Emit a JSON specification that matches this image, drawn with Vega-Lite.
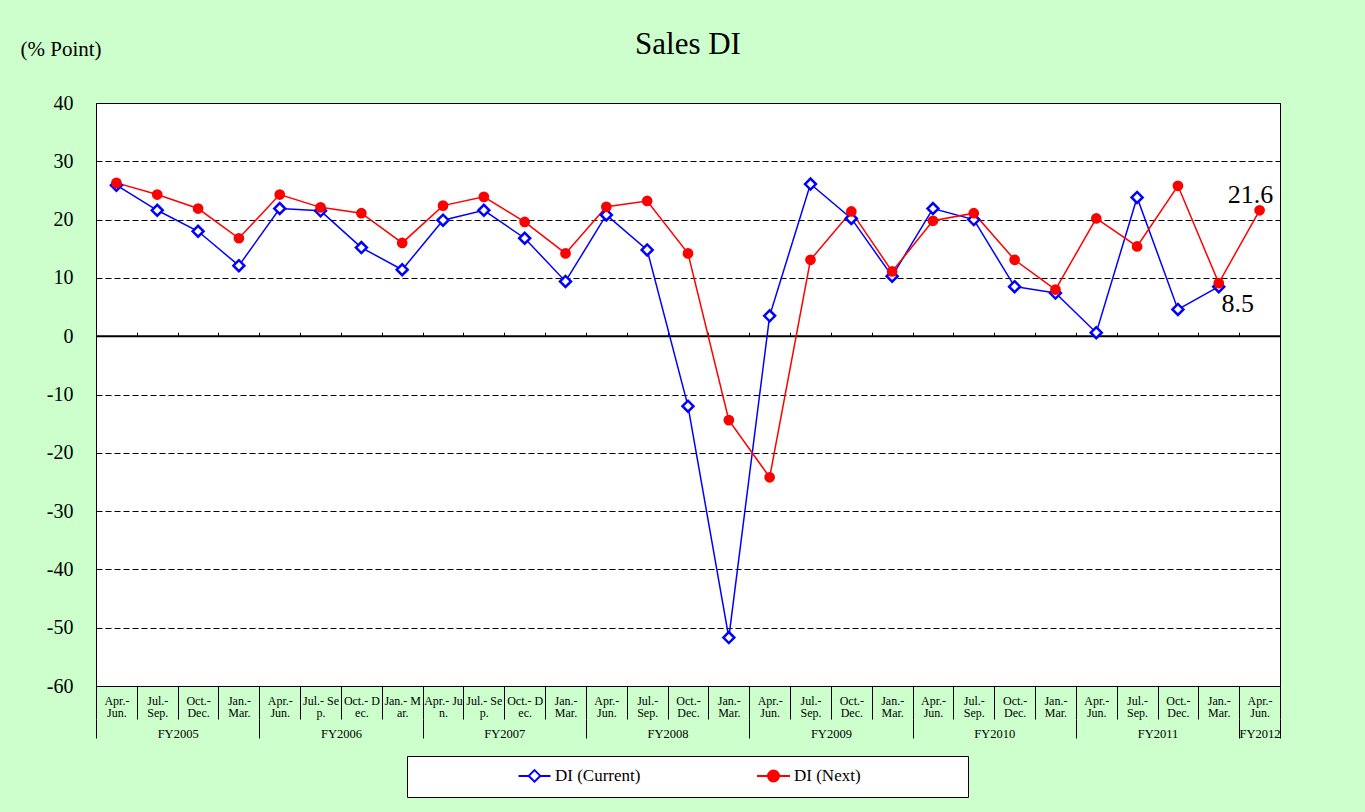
{
  "$schema": "https://vega.github.io/schema/vega-lite/v6.json",
  "width": 1184,
  "height": 583,
  "autosize": {"type": "none"},
  "padding": {"left": 96, "top": 103, "right": 85, "bottom": 126},
  "background": "#ccffcc",
  "title": {"text": "Sales DI", "font": "Liberation Serif", "fontSize": 31, "fontWeight": "normal", "color": "#000000", "anchor": "middle", "baseline": "alphabetic", "offset": 0, "dy": 47},
  "config": {
    "view": {"fill": "#ffffff", "stroke": "#000000", "strokeWidth": 1},
    "font": "Liberation Serif"
  },
  "data": {"values": [
    {"t": 0, "fy": "FY2005", "quarter": "Apr.-Jun.", "series": "DI (Current)", "di": 25.9},
    {"t": 1, "fy": "FY2005", "quarter": "Jul.-Sep.", "series": "DI (Current)", "di": 21.6},
    {"t": 2, "fy": "FY2005", "quarter": "Oct.-Dec.", "series": "DI (Current)", "di": 18.0},
    {"t": 3, "fy": "FY2005", "quarter": "Jan.-Mar.", "series": "DI (Current)", "di": 12.1},
    {"t": 4, "fy": "FY2006", "quarter": "Apr.-Jun.", "series": "DI (Current)", "di": 21.9},
    {"t": 5, "fy": "FY2006", "quarter": "Jul.-Sep.", "series": "DI (Current)", "di": 21.5},
    {"t": 6, "fy": "FY2006", "quarter": "Oct.-Dec.", "series": "DI (Current)", "di": 15.2},
    {"t": 7, "fy": "FY2006", "quarter": "Jan.-Mar.", "series": "DI (Current)", "di": 11.4},
    {"t": 8, "fy": "FY2007", "quarter": "Apr.-Jun.", "series": "DI (Current)", "di": 19.9},
    {"t": 9, "fy": "FY2007", "quarter": "Jul.-Sep.", "series": "DI (Current)", "di": 21.6},
    {"t": 10, "fy": "FY2007", "quarter": "Oct.-Dec.", "series": "DI (Current)", "di": 16.8},
    {"t": 11, "fy": "FY2007", "quarter": "Jan.-Mar.", "series": "DI (Current)", "di": 9.4},
    {"t": 12, "fy": "FY2008", "quarter": "Apr.-Jun.", "series": "DI (Current)", "di": 20.8},
    {"t": 13, "fy": "FY2008", "quarter": "Jul.-Sep.", "series": "DI (Current)", "di": 14.8},
    {"t": 14, "fy": "FY2008", "quarter": "Oct.-Dec.", "series": "DI (Current)", "di": -12.0},
    {"t": 15, "fy": "FY2008", "quarter": "Jan.-Mar.", "series": "DI (Current)", "di": -51.7},
    {"t": 16, "fy": "FY2009", "quarter": "Apr.-Jun.", "series": "DI (Current)", "di": 3.5},
    {"t": 17, "fy": "FY2009", "quarter": "Jul.-Sep.", "series": "DI (Current)", "di": 26.1},
    {"t": 18, "fy": "FY2009", "quarter": "Oct.-Dec.", "series": "DI (Current)", "di": 20.2},
    {"t": 19, "fy": "FY2009", "quarter": "Jan.-Mar.", "series": "DI (Current)", "di": 10.3},
    {"t": 20, "fy": "FY2010", "quarter": "Apr.-Jun.", "series": "DI (Current)", "di": 21.9},
    {"t": 21, "fy": "FY2010", "quarter": "Jul.-Sep.", "series": "DI (Current)", "di": 20.0},
    {"t": 22, "fy": "FY2010", "quarter": "Oct.-Dec.", "series": "DI (Current)", "di": 8.5},
    {"t": 23, "fy": "FY2010", "quarter": "Jan.-Mar.", "series": "DI (Current)", "di": 7.4},
    {"t": 24, "fy": "FY2011", "quarter": "Apr.-Jun.", "series": "DI (Current)", "di": 0.6},
    {"t": 25, "fy": "FY2011", "quarter": "Jul.-Sep.", "series": "DI (Current)", "di": 23.8},
    {"t": 26, "fy": "FY2011", "quarter": "Oct.-Dec.", "series": "DI (Current)", "di": 4.6},
    {"t": 27, "fy": "FY2011", "quarter": "Jan.-Mar.", "series": "DI (Current)", "di": 8.5},
    {"t": 0, "fy": "FY2005", "quarter": "Apr.-Jun.", "series": "DI (Next)", "di": 26.3},
    {"t": 1, "fy": "FY2005", "quarter": "Jul.-Sep.", "series": "DI (Next)", "di": 24.3},
    {"t": 2, "fy": "FY2005", "quarter": "Oct.-Dec.", "series": "DI (Next)", "di": 21.9},
    {"t": 3, "fy": "FY2005", "quarter": "Jan.-Mar.", "series": "DI (Next)", "di": 16.8},
    {"t": 4, "fy": "FY2006", "quarter": "Apr.-Jun.", "series": "DI (Next)", "di": 24.3},
    {"t": 5, "fy": "FY2006", "quarter": "Jul.-Sep.", "series": "DI (Next)", "di": 22.1},
    {"t": 6, "fy": "FY2006", "quarter": "Oct.-Dec.", "series": "DI (Next)", "di": 21.1},
    {"t": 7, "fy": "FY2006", "quarter": "Jan.-Mar.", "series": "DI (Next)", "di": 16.0},
    {"t": 8, "fy": "FY2007", "quarter": "Apr.-Jun.", "series": "DI (Next)", "di": 22.4},
    {"t": 9, "fy": "FY2007", "quarter": "Jul.-Sep.", "series": "DI (Next)", "di": 23.9},
    {"t": 10, "fy": "FY2007", "quarter": "Oct.-Dec.", "series": "DI (Next)", "di": 19.6},
    {"t": 11, "fy": "FY2007", "quarter": "Jan.-Mar.", "series": "DI (Next)", "di": 14.2},
    {"t": 12, "fy": "FY2008", "quarter": "Apr.-Jun.", "series": "DI (Next)", "di": 22.2},
    {"t": 13, "fy": "FY2008", "quarter": "Jul.-Sep.", "series": "DI (Next)", "di": 23.2},
    {"t": 14, "fy": "FY2008", "quarter": "Oct.-Dec.", "series": "DI (Next)", "di": 14.2},
    {"t": 15, "fy": "FY2008", "quarter": "Jan.-Mar.", "series": "DI (Next)", "di": -14.4},
    {"t": 16, "fy": "FY2009", "quarter": "Apr.-Jun.", "series": "DI (Next)", "di": -24.2},
    {"t": 17, "fy": "FY2009", "quarter": "Jul.-Sep.", "series": "DI (Next)", "di": 13.1},
    {"t": 18, "fy": "FY2009", "quarter": "Oct.-Dec.", "series": "DI (Next)", "di": 21.4},
    {"t": 19, "fy": "FY2009", "quarter": "Jan.-Mar.", "series": "DI (Next)", "di": 11.1},
    {"t": 20, "fy": "FY2010", "quarter": "Apr.-Jun.", "series": "DI (Next)", "di": 19.8},
    {"t": 21, "fy": "FY2010", "quarter": "Jul.-Sep.", "series": "DI (Next)", "di": 21.1},
    {"t": 22, "fy": "FY2010", "quarter": "Oct.-Dec.", "series": "DI (Next)", "di": 13.1},
    {"t": 23, "fy": "FY2010", "quarter": "Jan.-Mar.", "series": "DI (Next)", "di": 8.0},
    {"t": 24, "fy": "FY2011", "quarter": "Apr.-Jun.", "series": "DI (Next)", "di": 20.2},
    {"t": 25, "fy": "FY2011", "quarter": "Jul.-Sep.", "series": "DI (Next)", "di": 15.4},
    {"t": 26, "fy": "FY2011", "quarter": "Oct.-Dec.", "series": "DI (Next)", "di": 25.8},
    {"t": 27, "fy": "FY2011", "quarter": "Jan.-Mar.", "series": "DI (Next)", "di": 9.1},
    {"t": 28, "fy": "FY2012", "quarter": "Apr.-Jun.", "series": "DI (Next)", "di": 21.6}
  ]},
  "resolve": {"axis": {"x": "independent"}},
  "layer": [
    {
      "data": {"values": [{"baseline": 0}]},
      "mark": {"type": "rule", "color": "#000000", "strokeWidth": 2},
      "encoding": {
        "y": {"field": "baseline", "type": "quantitative", "title": "(% Point)"}
      }
    },
    {
      "mark": {"type": "line", "strokeWidth": 1.5},
      "encoding": {
        "x": {
          "field": "t", "type": "quantitative",
          "scale": {"domain": [-0.5, 28.5], "nice": false, "zero": false},
          "axis": {"orient": "bottom", "title": null, "values": [-0.5, 0.5, 1.5, 2.5, 3.5, 4.5, 5.5, 6.5, 7.5, 8.5, 9.5, 10.5, 11.5, 12.5, 13.5, 14.5, 15.5, 16.5, 17.5, 18.5, 19.5, 20.5, 21.5, 22.5, 23.5, 24.5, 25.5, 26.5, 27.5, 28.5], "labels": false, "ticks": true, "tickSize": 33, "tickColor": "#000000", "tickWidth": 1, "domain": false, "grid": false}
        },
        "y": {
          "field": "di", "type": "quantitative", "title": "(% Point)",
          "scale": {"domain": [-60, 40], "nice": false, "zero": false},
          "axis": {"values": [-60, -50, -40, -30, -20, -10, 0, 10, 20, 30, 40], "labelExpr": "'' + datum.value", "grid": true, "gridColor": "#000000", "gridDash": [6, 3], "gridOpacity": 1, "gridWidth": 1, "domain": false, "ticks": false, "labelFont": "Liberation Serif", "labelFontSize": 20, "labelColor": "#000000", "labelPadding": 23, "titleAngle": 0, "titleX": -76, "titleY": -48, "titleAlign": "left", "titleBaseline": "alphabetic", "titleFont": "Liberation Serif", "titleFontSize": 21, "titleFontWeight": "normal", "titleColor": "#000000"}
        },
        "color": {
          "field": "series", "type": "nominal",
          "scale": {"domain": ["DI (Current)", "DI (Next)"], "range": ["#0000ff", "#ff0000"]},
          "legend": {
            "orient": "none", "legendX": 311, "legendY": 653, "direction": "horizontal", "title": null,
            "padding": 11, "fillColor": "#ffffff", "strokeColor": "#000000",
            "symbolSize": 100, "symbolStrokeWidth": 2, "symbolOffset": 108, "labelOffset": 12, "columnPadding": 16,
            "labelFont": "Liberation Serif", "labelFontSize": 17, "labelColor": "#000000", "labelLimit": 300,
            "encode": {"symbols": {"update": {
              "shape": {"signal": "datum.value === 'DI (Current)' ? 'M-3.2,0H-1.15M1.15,0H3.2M-1.15,0L0,-1.15L1.15,0L0,1.15Z' : 'M-3.3,0H3.3M-1.1,0A1.1,1.1,0,1,0,1.1,0A1.1,1.1,0,1,0,-1.1,0ZM35.8,0'"},
              "fill": {"signal": "datum.value === 'DI (Current)' ? '#ffffff' : '#ff0000'"},
              "stroke": {"signal": "datum.value === 'DI (Current)' ? '#0000ff' : '#ff0000'"},
              "strokeWidth": {"value": 2},
              "opacity": {"value": 1}
            }}}
          }
        }
      }
    },
    {
      "transform": [{"filter": "datum.series === 'DI (Current)'"}],
      "mark": {"type": "point", "shape": "diamond", "filled": true, "fill": "#ffffff", "stroke": "#0000ff", "strokeWidth": 2.5, "size": 120, "opacity": 1},
      "encoding": {
        "x": {
          "field": "t", "type": "quantitative",
          "axis": {"orient": "bottom", "title": null, "values": [0, 1, 2, 3, 4, 5, 6, 7, 8, 9, 10, 11, 12, 13, 14, 15, 16, 17, 18, 19, 20, 21, 22, 23, 24, 25, 26, 27, 28], "ticks": false, "domain": false, "grid": false, "labelOverlap": false, "labelFlush": false, "labelBound": false, "labelPadding": 18, "labelBaseline": "alphabetic", "labelLineHeight": 12, "labelFont": "Liberation Serif", "labelFontSize": 12, "labelColor": "#000000",
            "labelExpr": "split(['Apr.-|Jun.','Jul.-|Sep.','Oct.-|Dec.','Jan.-|Mar.','Apr.-|Jun.','Jul.- Se|p.','Oct.- D|ec.','Jan.- M|ar.','Apr.- Ju|n.','Jul.- Se|p.','Oct.- D|ec.','Jan.-|Mar.','Apr.-|Jun.','Jul.-|Sep.','Oct.-|Dec.','Jan.-|Mar.','Apr.-|Jun.','Jul.-|Sep.','Oct.-|Dec.','Jan.-|Mar.','Apr.-|Jun.','Jul.-|Sep.','Oct.-|Dec.','Jan.-|Mar.','Apr.-|Jun.','Jul.-|Sep.','Oct.-|Dec.','Jan.-|Mar.','Apr.-|Jun.'][datum.value], '|')"}
        },
        "y": {"field": "di", "type": "quantitative", "title": "(% Point)"}
      }
    },
    {
      "transform": [{"filter": "datum.series === 'DI (Next)'"}],
      "mark": {"type": "circle", "color": "#ff0000", "size": 115, "opacity": 1},
      "encoding": {
        "x": {
          "field": "t", "type": "quantitative",
          "axis": {"orient": "bottom", "title": null, "offset": 33, "values": [-0.5, 3.5, 7.5, 11.5, 15.5, 19.5, 23.5, 27.5, 28.5], "labels": false, "ticks": true, "tickSize": 19, "tickColor": "#000000", "tickWidth": 1, "domain": false, "grid": false}
        },
        "y": {"field": "di", "type": "quantitative", "title": "(% Point)"}
      }
    },
    {
      "transform": [{"filter": "datum.series === 'DI (Next)' && datum.t === 28"}],
      "mark": {"type": "text", "font": "Liberation Serif", "fontSize": 26, "color": "#000000", "align": "center", "baseline": "alphabetic", "dx": -9, "dy": -7},
      "encoding": {
        "x": {
          "field": "t", "type": "quantitative",
          "axis": {"orient": "bottom", "title": null, "values": [1.5, 5.5, 9.5, 13.5, 17.5, 21.5, 25.5, 28], "ticks": false, "domain": false, "grid": false, "labelOverlap": false, "labelFlush": false, "labelBound": false, "labelPadding": 51, "labelBaseline": "alphabetic", "labelFont": "Liberation Serif", "labelFontSize": 12.5, "labelColor": "#000000",
            "labelExpr": "datum.value == 28 ? 'FY2012' : 'FY' + (2005 + floor(datum.value / 4))"}
        },
        "y": {"field": "di", "type": "quantitative", "title": "(% Point)"},
        "text": {"field": "di", "type": "quantitative", "format": ".1f"}
      }
    },
    {
      "transform": [{"filter": "datum.series === 'DI (Current)' && datum.t === 27"}],
      "mark": {"type": "text", "font": "Liberation Serif", "fontSize": 26, "color": "#000000", "align": "center", "baseline": "alphabetic", "dx": 19, "dy": 25},
      "encoding": {
        "x": {
          "field": "t", "type": "quantitative",
          "axis": {"orient": "bottom", "title": null, "offset": -349.8, "values": [0.5, 1.5, 2.5, 3.5, 4.5, 5.5, 6.5, 7.5, 8.5, 9.5, 10.5, 11.5, 12.5, 13.5, 14.5, 15.5, 16.5, 17.5, 18.5, 19.5, 20.5, 21.5, 22.5, 23.5, 24.5, 25.5, 26.5, 27.5], "labels": false, "ticks": true, "tickSize": -4, "tickColor": "#000000", "tickWidth": 1, "domain": false, "grid": false}
        },
        "y": {"field": "di", "type": "quantitative", "title": "(% Point)"},
        "text": {"field": "di", "type": "quantitative", "format": ".1f"}
      }
    }
  ]
}
